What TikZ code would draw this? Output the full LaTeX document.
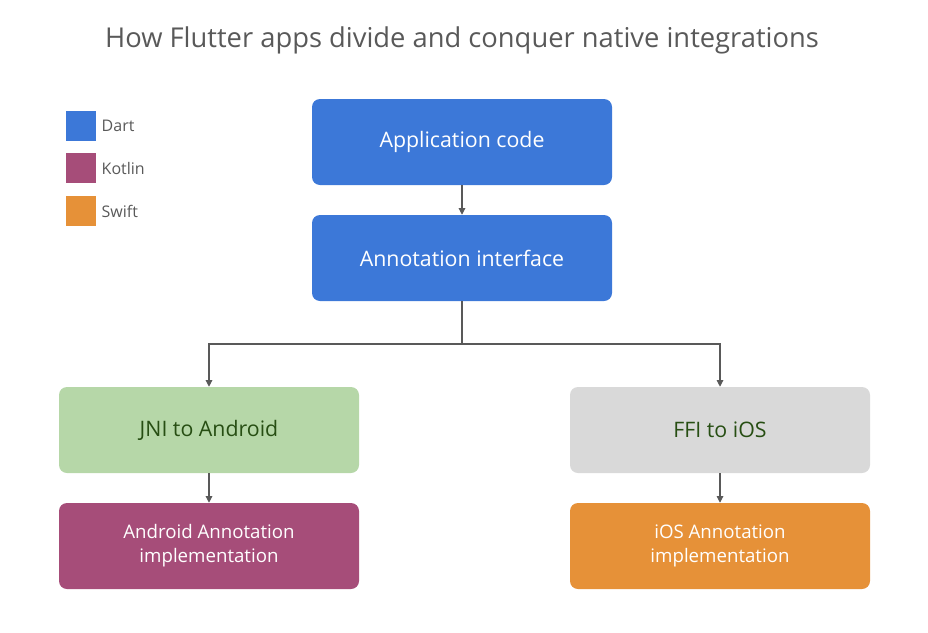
\documentclass[tikz,border=0pt]{standalone}
\usepackage{fontspec}
\setmainfont{Open Sans}
\usetikzlibrary{arrows.meta}
\definecolor{dart}{HTML}{3C78D8}
\definecolor{kot}{HTML}{A64D79}
\definecolor{swi}{HTML}{E69138}
\definecolor{grn}{HTML}{B6D7A8}
\definecolor{gry}{HTML}{D9D9D9}
\definecolor{dg}{HTML}{274E13}
\definecolor{ln}{HTML}{595959}
\begin{document}
\begin{tikzpicture}[x=0.75pt,y=-0.75pt,
 box/.style={rounded corners=6pt,minimum width=225pt,minimum height=64.5pt,inner sep=0pt,align=center},
 big/.style={font=\fontsize{16}{19}\selectfont},
 small/.style={font=\fontsize{14}{18}\selectfont},
 leg/.style={fill=#1,minimum size=22.5pt,inner sep=0pt},
 legt/.style={anchor=west,text=ln,font=\fontsize{12}{14}\selectfont},
 arr/.style={draw=ln,line width=0.8pt,-{Triangle[length=5pt,width=5pt]}}]
\useasboundingbox (0,0) rectangle (928,632);
\node[text=ln,font=\fontsize{20.5}{24}\selectfont] (title) at (462,40) {How Flutter apps divide and conquer native integrations};
\node[leg=dart] (l1) at (80.5,126) {};
\node[leg=kot] (l2) at (80.5,168) {};
\node[leg=swi] (l3) at (80.5,211) {};
\node[legt] (t1) at (97,126) {Dart};
\node[legt] (t2) at (97,168) {Kotlin};
\node[legt] (t3) at (97,211) {Swift};
\node[box,big,fill=dart,text=white] (app) at (462,142) {Application code};
\node[box,big,fill=dart,text=white] (ann) at (462,258) {Annotation interface};
\node[box,big,fill=grn,text=dg] (jni) at (209,430) {JNI to Android};
\node[box,big,fill=gry,text=dg] (ffi) at (720,430) {FFI to iOS};
\node[box,small,fill=kot,text=white] (aimp) at (209,546) {Android Annotation\\implementation};
\node[box,small,fill=swi,text=white] (iimp) at (720,546) {iOS Annotation\\implementation};
\coordinate (j) at (462,344);
\draw[arr] (app) -- (ann);
\draw[arr] (ann) -- (j) -| (jni);
\draw[arr] (j) -| (ffi);
\draw[arr] (jni) -- (aimp);
\draw[arr] (ffi) -- (iimp);
\end{tikzpicture}
\end{document}
